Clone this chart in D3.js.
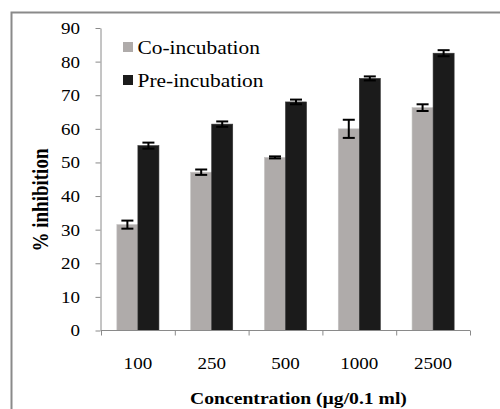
<!DOCTYPE html>
<html><head><meta charset="utf-8">
<script src="https://cdn.jsdelivr.net/npm/d3@7"></script>
</head>
<body style="margin:0;background:#fff">
<svg id="chart" width="500" height="409"></svg>
<script>
const categories = ["100", "250", "500", "1000", "2500"];
const seriesNames = ["Co-incubation", "Pre-incubation"];
const coValues = [31.5, 47.1, 51.5, 60.0, 66.3];
const coErrors = [1.2, 0.8, 0.3, 2.7, 1.0];
const preValues = [55.0, 61.4, 68.0, 75.0, 82.5];
const preErrors = [0.9, 0.8, 0.7, 0.6, 0.9];
const yTicks = [0, 10, 20, 30, 40, 50, 60, 70, 80, 90];
const colors = ["#afabaa", "#1b1b1b"];

const FONT = '"Liberation Serif", monospace';
const SX = 1.19; // horizontal stretch of reference text
const svg = d3.select("#chart");

// outer frame (cropped on right and bottom)
svg.append("path").attr("d", "M11.5,420 L11.5,12.5 L520,12.5")
  .attr("fill", "none").attr("stroke", "#8a8a8a").attr("stroke-width", 2);

const x0 = d3.scaleBand().domain(categories).range([101, 470])
  .paddingInner(0.43).paddingOuter(0.215);
const x1 = d3.scaleBand().domain(seriesNames).range([0, x0.bandwidth()]);
const y = d3.scaleLinear().domain([0, 90]).range([330.5, 28]);

const data = categories.map((c, i) => ({
  cat: c,
  vals: [
    {s: seriesNames[0], v: coValues[i], e: coErrors[i], col: colors[0]},
    {s: seriesNames[1], v: preValues[i], e: preErrors[i], col: colors[1]}
  ]
}));

// bars
const groups = svg.append("g").selectAll("g").data(data).join("g")
  .attr("transform", d => `translate(${x0(d.cat)},0)`);
groups.selectAll("rect").data(d => d.vals).join("rect")
  .attr("x", d => x1(d.s)).attr("width", x1.bandwidth())
  .attr("y", d => y(d.v)).attr("height", d => y(0) - y(d.v))
  .attr("fill", d => d.col)
  .attr("stroke", (d, i) => i === 0 ? "#c4c2c1" : "#333")
  .attr("stroke-width", 0.6);

// error bars
const eb = groups.selectAll("g.err").data(d => d.vals).join("g").attr("class", "err");
const cap = 6;
const cx = d => x1(d.s) + x1.bandwidth() / 2;
eb.append("line")
  .attr("x1", cx).attr("x2", cx)
  .attr("y1", d => y(d.v + d.e)).attr("y2", d => y(d.v - d.e))
  .attr("stroke", "#000").attr("stroke-width", 2);
eb.append("line")
  .attr("x1", d => cx(d) - cap).attr("x2", d => cx(d) + cap)
  .attr("y1", d => y(d.v + d.e)).attr("y2", d => y(d.v + d.e))
  .attr("stroke", "#000").attr("stroke-width", 2);
eb.append("line")
  .attr("x1", d => cx(d) - cap).attr("x2", d => cx(d) + cap)
  .attr("y1", d => y(d.v - d.e)).attr("y2", d => y(d.v - d.e))
  .attr("stroke", "#000").attr("stroke-width", 2);

// y axis
const yAxis = svg.append("g").attr("transform", "translate(100.5,0)")
  .call(d3.axisLeft(y).tickValues(yTicks).tickSize(5).tickPadding(0).tickSizeOuter(0));
yAxis.attr("font-family", null);
yAxis.select(".domain").attr("stroke", "#8a8a8a");
yAxis.selectAll(".tick line").attr("stroke", "#8a8a8a");
yAxis.selectAll(".tick text")
  .attr("x", null).attr("dy", null)
  .attr("transform", "translate(-20.5,0) scale(" + SX + ",1)")
  .attr("dominant-baseline", "central")
  .style("font-family", FONT)
  .style("font-size", "16px");

// x axis
const xAxis = svg.append("g").attr("transform", "translate(0,330.5)")
  .call(d3.axisBottom(d3.scaleLinear().domain([0, 5]).range([101, 470])).ticks(5).tickSize(5).tickFormat(""));
xAxis.select(".domain").attr("stroke", "#8a8a8a").attr("d", "M101,0V0H470V0");
xAxis.selectAll(".tick line").attr("stroke", "#8a8a8a");

svg.append("g").selectAll("text").data(categories).join("text")
  .attr("transform", d => `translate(${x0(d) + x0.bandwidth() / 2},364) scale(${SX},1)`)
  .attr("text-anchor", "middle").attr("dominant-baseline", "central")
  .style("font-family", FONT)
  .style("font-size", "16px").text(d => d);

// axis titles
svg.append("text")
  .attr("transform", `translate(298.5,399) scale(${SX},1)`)
  .attr("text-anchor", "middle").attr("dominant-baseline", "central")
  .style("font-family", FONT)
  .style("font-size", "16.5px").style("font-weight", "bold")
  .text("Concentration (µg/0.1 ml)");
svg.append("text")
  .attr("transform", `translate(40,200) scale(${SX},1) rotate(-90)`)
  .attr("text-anchor", "middle").attr("dominant-baseline", "central")
  .style("font-family", FONT)
  .style("font-size", "19px").style("font-weight", "bold")
  .text("% inhibition");

// legend
const leg = svg.append("g").selectAll("g").data(seriesNames).join("g")
  .attr("transform", (d, i) => `translate(123,${42 + i * 33})`);
leg.append("rect").attr("width", 10).attr("height", 10)
  .attr("fill", (d, i) => colors[i]);
leg.append("text")
  .attr("transform", `translate(14.5,5.5) scale(${SX},1)`)
  .attr("dominant-baseline", "central")
  .style("font-family", FONT)
  .style("font-size", "18px").text(d => d);
</script>
</body></html>
